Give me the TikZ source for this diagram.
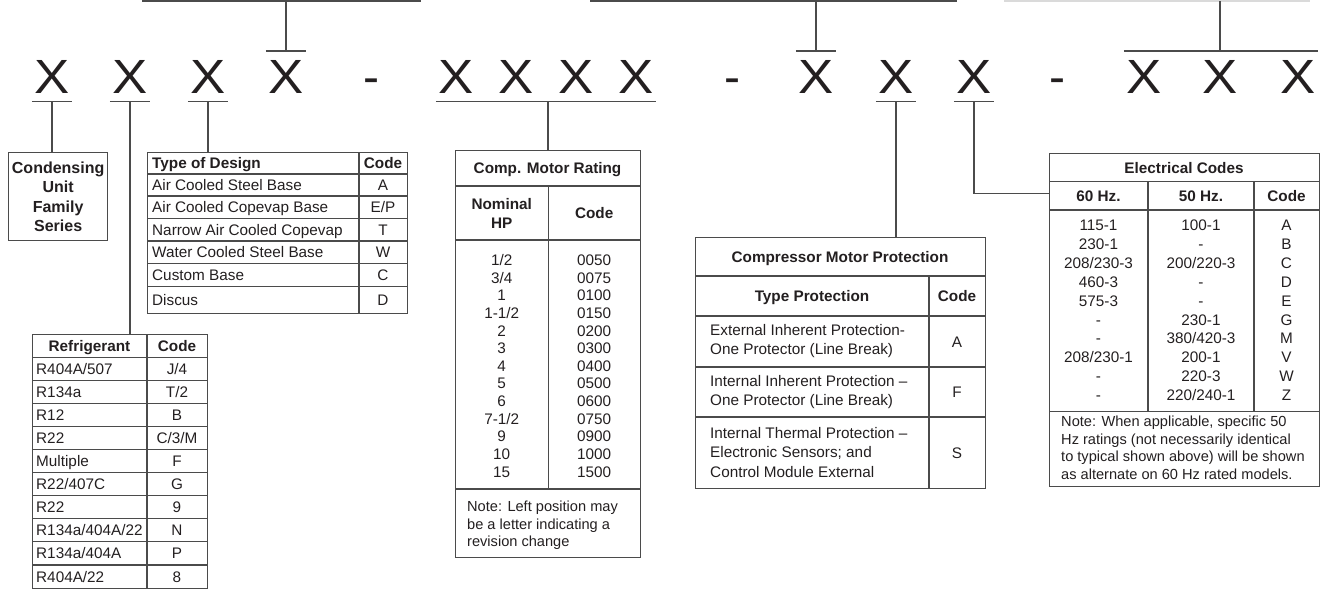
\documentclass[tikz,border=0pt]{standalone}
\usepackage{fontspec}
\setmainfont{Liberation Sans}
\usetikzlibrary{positioning}

\definecolor{ink}{RGB}{35,31,32}
\definecolor{rulegray}{RGB}{75,75,75}
\definecolor{faintgray}{RGB}{218,218,218}

\newcommand{\cellfont}{\fontsize{15.3}{17.6}\selectfont}
\newcommand{\notefont}{\fontsize{14.6}{17.6}\selectfont}
\newcommand{\bigfont}{\fontsize{48}{48}\selectfont}
\newcommand{\posx}{\scalebox{1.1}[1]{X}}

\tikzstyle{digit} = [font=\bigfont, text=ink, inner xsep=0pt, inner ysep=8pt, text height=34pt, text depth=0pt, minimum width=40pt]
\tikzstyle{tbox} = [rectangle, draw=rulegray, line width=1.3pt, inner sep=0pt, anchor=north west]
\tikzstyle{cell} = [font=\cellfont, text=ink, inner sep=0pt, text height=11pt, text depth=0pt]
\tikzstyle{head} = [cell, font=\cellfont\bfseries]
\tikzstyle{tnote} = [font=\notefont, text=ink, inner sep=0pt, align=left]
\tikzstyle{rowline} = [draw=rulegray, line width=1.1pt]
\tikzstyle{conn} = [draw=rulegray, line width=1.4pt]
\tikzstyle{topbar} = [draw=rulegray, line width=2pt]

\begin{document}
\begin{tikzpicture}[x=1pt, y=1pt, node distance=78pt]
    \useasboundingbox (0,0) rectangle (1325,-589);

    % Model number positions
    \node (x1) [digit] at (52,-76) {\posx};
    \node (x2) [digit, right of=x1] {\posx};
    \node (x3) [digit, right of=x2] {\posx};
    \node (x4) [digit, right of=x3] {\posx};
    \node (d1) [digit, right of=x4, node distance=85pt] {-};
    \node (x5) [digit, right of=d1, node distance=85pt] {\posx};
    \node (x6) [digit, right of=x5, node distance=60pt] {\posx};
    \node (x7) [digit, right of=x6, node distance=60pt] {\posx};
    \node (x8) [digit, right of=x7, node distance=60pt] {\posx};
    \node (d2) [digit, right of=x8, node distance=96pt] {-};
    \node (x9) [digit, right of=d2, node distance=84pt] {\posx};
    \node (x10) [digit, right of=x9, node distance=80pt] {\posx};
    \node (x11) [digit, right of=x10] {\posx};
    \node (d3) [digit, right of=x11, node distance=83pt] {-};
    \node (x12) [digit, right of=d3, node distance=87pt] {\posx};
    \node (x13) [digit, right of=x12, node distance=76pt] {\posx};
    \node (x14) [digit, right of=x13] {\posx};

    % Bars from the part above
    \coordinate (barA-w) at (142,-1);
    \coordinate (barA-e) at (421,-1);
    \coordinate (barB-w) at (590,-1);
    \coordinate (barB-e) at (957,-1);
    \coordinate (barC-w) at (1004,-1);
    \coordinate (barC-e) at (1310,-1);
    \draw [topbar] (barA-w) -- (barA-e);
    \draw [topbar] (barB-w) -- (barB-e);
    \draw [topbar, draw=faintgray] (barC-w) -- (barC-e);

    % Condensing unit family
    \node (cu) [tbox, minimum width=99pt, minimum height=88pt, align=center, text=ink, font=\fontsize{16}{19.3}\selectfont\bfseries] at (8,-152) {Condensing\\Unit\\Family\\Series};

    % Type of design
    \node (td) [tbox, minimum width=260pt, minimum height=161pt] at (147,-152) {};
    \foreach \y in {174,196,218.5,241,263.5,286.5}
        \draw [rowline] (147,-\y) -- (407,-\y);
    \draw [rowline] (359,-152) -- (359,-313);
    \node (td-h) [head, anchor=west] at (152,-163) {Type of Design};
    \node (td-hc) [head] at (383,-163) {Code};
    \foreach \y/\t/\c [count=\i] in {185/Air Cooled Steel Base/A, 207.2/Air Cooled Copevap Base/{E/P}, 229.7/Narrow Air Cooled Copevap/T, 252.2/Water Cooled Steel Base/W, 275/Custom Base/C, 299.7/Discus/D}
    {
        \node (td-t\i) [cell, anchor=west] at (152,-\y) {\t};
        \node (td-c\i) [cell] at (383,-\y) {\c};
    }

    % Refrigerant
    \node (rf) [tbox, minimum width=175pt, minimum height=254pt] at (32,-334) {};
    \draw [rowline] (147,-334) -- (147,-588);
    \foreach \i in {1,...,10}
        \draw [rowline] (32,{-334-23.1*\i}) -- (207,{-334-23.1*\i});
    \node (rf-h) [head] at (89.5,-345.5) {Refrigerant};
    \node (rf-hc) [head] at (177,-345.5) {Code};
    \foreach \t/\c [count=\i] in {{R404A/507}/{J/4}, R134a/{T/2}, R12/B, R22/{C/3/M}, Multiple/F, {R22/407C}/G, R22/9, {R134a/404A/22}/N, {R134a/404A}/P, {R404A/22}/8}
    {
        \node (rf-t\i) [cell, anchor=west] at (36,{-345.5-23.1*\i}) {\t};
        \node (rf-c\i) [cell] at (177,{-345.5-23.1*\i}) {\c};
    }

    % Compressor motor rating
    \node (cm) [tbox, minimum width=185pt, minimum height=407pt] at (455,-150) {};
    \draw [rowline] (455,-186) -- (640,-186);
    \draw [rowline] (455,-240) -- (640,-240);
    \draw [rowline] (455,-489) -- (640,-489);
    \draw [rowline] (548.5,-186) -- (548.5,-489);
    \node (cm-title) [head] at (547.5,-168) {Comp. Motor Rating};
    \node (cm-hp) [tnote, align=center, font=\fontsize{15.3}{19}\selectfont\bfseries] at (501.7,-213) {Nominal\\HP};
    \node (cm-hc) [head] at (594.2,-213) {Code};
    \foreach \hp/\code [count=\i from 0] in {{1/2}/0050, {3/4}/0075, 1/0100, {1-1/2}/0150, 2/0200, 3/0300, 4/0400, 5/0500, 6/0600, {7-1/2}/0750, 9/0900, 10/1000, 15/1500}
    {
        \node (cm-p\i) [cell] at (501.7,{-260-17.64*\i}) {\hp};
        \node (cm-c\i) [cell] at (594.2,{-260-17.64*\i}) {\code};
    }
    \node (cm-note) [tnote, anchor=north west] at (467,-501) {Note: Left position may\\be a letter indicating a\\revision change};

    % Compressor motor protection
    \node (mp) [tbox, minimum width=290pt, minimum height=251pt] at (695,-237) {};
    \foreach \y in {276,316,367,417}
        \draw [rowline] (695,-\y) -- (985,-\y);
    \draw [rowline] (929,-276) -- (929,-488);
    \node (mp-title) [head] at (840,-256.5) {Compressor Motor Protection};
    \node (mp-ht) [head] at (812,-296) {Type Protection};
    \node (mp-hc) [head] at (957,-296) {Code};
    \node (mp-t1) [tnote, anchor=west, font=\fontsize{15.3}{19}\selectfont] at (710,-341.5) {External Inherent Protection-\\One Protector (Line Break)};
    \node (mp-t2) [tnote, anchor=west, font=\fontsize{15.3}{19}\selectfont] at (710,-392) {Internal Inherent Protection --\\One Protector (Line Break)};
    \node (mp-t3) [tnote, anchor=west, font=\fontsize{15.3}{19.5}\selectfont] at (710,-452.5) {Internal Thermal Protection --\\Electronic Sensors; and\\Control Module External};
    \node (mp-c1) [cell] at (957,-341.5) {A};
    \node (mp-c2) [cell] at (957,-392) {F};
    \node (mp-c3) [cell] at (957,-452.5) {S};

    % Electrical codes
    \node (ec) [tbox, minimum width=270pt, minimum height=333pt] at (1049,-153) {};
    \draw [rowline] (1049,-181.7) -- (1319,-181.7);
    \draw [rowline] (1049,-210) -- (1319,-210);
    \draw [rowline] (1049,-411.7) -- (1319,-411.7);
    \draw [rowline] (1148,-181.7) -- (1148,-411.7);
    \draw [rowline] (1254,-181.7) -- (1254,-411.7);
    \node (ec-title) [head] at (1184,-167.5) {Electrical Codes};
    \node (ec-h60) [head] at (1098.5,-196) {60 Hz.};
    \node (ec-h50) [head] at (1201,-196) {50 Hz.};
    \node (ec-hc) [head] at (1286.5,-196) {Code};
    \foreach \a/\b/\c [count=\i from 0] in {115-1/100-1/A, 230-1/-/B, {208/230-3}/{200/220-3}/C, 460-3/-/D, 575-3/-/E, -/230-1/G, -/{380/420-3}/M, {208/230-1}/200-1/V, -/220-3/W, -/{220/240-1}/Z}
    {
        \node (ec-a\i) [cell] at (1098.5,{-225-18.9*\i}) {\a};
        \node (ec-b\i) [cell] at (1201,{-225-18.9*\i}) {\b};
        \node (ec-c\i) [cell] at (1286.5,{-225-18.9*\i}) {\c};
    }
    \node (ec-note) [tnote, anchor=north west] at (1061,-416) {Note: When applicable, specific 50\\Hz ratings (not necessarily identical\\to typical shown above) will be shown\\as alternate on 60 Hz rated models.};
    \coordinate (ec-in) at (1049,-193.5);

    % Lines
    \draw [conn] (x1.south west) -- (x1.south east);
    \draw [conn] (x2.south west) -- (x2.south east);
    \draw [conn] (x3.south west) -- (x3.south east);
    \draw [conn] (x4.north west) -- (x4.north east);
    \draw [conn] (x5.south west) -- (x8.south east);
    \draw [conn] (x9.north west) -- (x9.north east);
    \draw [conn] (x10.south west) -- (x10.south east);
    \draw [conn] (x11.south west) -- (x11.south east);
    \draw [conn] (x12.north west) -- (x14.north east);
    \draw [conn] (x1.south) -- (x1.south |- cu.north);
    \draw [conn] (x2.south) -- (x2.south |- rf.north);
    \draw [conn] (x3.south) -- (x3.south |- td.north);
    \draw [conn] (x4.north) -- (x4.north |- barA-w);
    \draw [conn] (cm.north) -- (cm.north |- x5.south);
    \draw [conn] (x9.north) -- (x9.north |- barB-w);
    \draw [conn] (x10.south) -- (x10.south |- mp.north);
    \draw [conn] (x11.south) |- (ec-in);
    \draw [conn] (x13.north) -- (x13.north |- barC-w);
\end{tikzpicture}
\end{document}
